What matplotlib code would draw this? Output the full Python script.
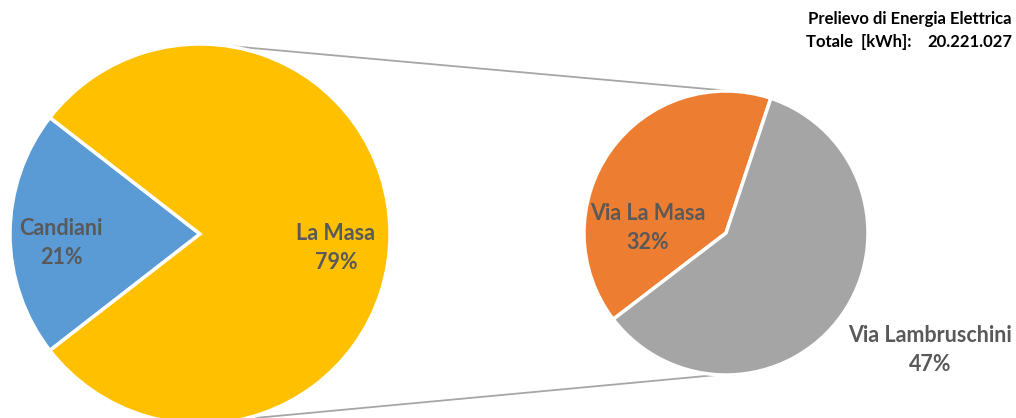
import numpy as np
import matplotlib
matplotlib.use("Agg")
import matplotlib.pyplot as plt

# main pie
main_labels = ["Candiani", "La Masa"]
main_values = [21, 79]
main_colors = ["#5B9BD5", "#FFC000"]

# second pie (split of La Masa), percentages of the total
sub_labels = ["Via La Masa", "Via Lambruschini"]
sub_values = [32, 47]
sub_colors = ["#ED7D31", "#A5A5A5"]

title_1 = "Prelievo di Energia Elettrica"
title_2 = "Totale  [kWh]:"
total_kwh = "20.221.027"

W, H = 1016, 418
fig = plt.figure(figsize=(W / 100, H / 100), dpi=100)
ax = fig.add_axes([0, 0, 1, 1])

c1, r1 = (200, H - 234), 190
c2, r2 = (726, H - 233), 142

lab_color = "#595959"
font = "Lato"

# blue slice centred on the left side
start1 = 180 - main_values[0] / sum(main_values) * 360 / 2
wedges1, _ = ax.pie(main_values, colors=main_colors, center=c1, radius=r1,
                    startangle=start1, counterclock=True,
                    wedgeprops=dict(edgecolor="white", linewidth=2.5))

start2 = 71.6
wedges2, _ = ax.pie(sub_values, colors=sub_colors, center=c2, radius=r2,
                    startangle=start2, counterclock=True,
                    wedgeprops=dict(edgecolor="white", linewidth=2.5))

# connector lines
def pt(c, r, a):
    a = np.radians(a)
    return c[0] + r * np.cos(a), c[1] + r * np.sin(a)

for a1, a2 in [(83, 88), (-77, 267)]:
    p, q = pt(c1, r1, a1), pt(c2, r2, a2)
    ax.plot([p[0], q[0]], [p[1], q[1]], color="#A6A6A6", lw=1.3, zorder=0)

def lab(x, y, name, v):
    ax.text(x, H - y, f"{name}\n{v}%", ha="center", va="center",
            color=lab_color, fontsize=15.5, fontweight="bold", family=font,
            linespacing=1.45)

lab(61, 243, main_labels[0], main_values[0])
lab(336, 248, main_labels[1], main_values[1])
lab(648, 228, sub_labels[0], sub_values[0])
lab(930, 350, sub_labels[1], sub_values[1])

ax.text(1012, H - 19, title_1, ha="right", va="center", fontsize=12,
        fontweight="bold", family=font, color="black")
ax.text(806, H - 42, title_2, ha="left", va="center", fontsize=12,
        fontweight="bold", family=font, color="black")
ax.text(1012, H - 42, total_kwh, ha="right", va="center", fontsize=12,
        fontweight="bold", family=font, color="black")

ax.set_xlim(0, W)
ax.set_ylim(0, H)
ax.set_aspect("equal")
ax.axis("off")
fig.savefig("out.png", dpi=100)
